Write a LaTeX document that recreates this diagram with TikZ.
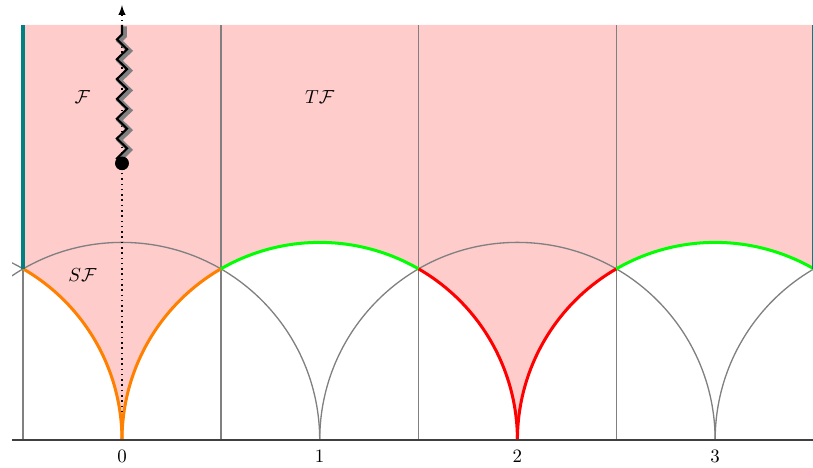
\documentclass[tikz,border=0pt]{standalone}
\usepackage{xcolor}
\usepackage{tikz}
\usetikzlibrary{decorations.pathmorphing}
\definecolor{MFPink}{HTML}{FFCCCC}
\definecolor{MFGray}{HTML}{808080}
\definecolor{MFAxis}{HTML}{404040}
\definecolor{MFOrange}{HTML}{FF8000}
\definecolor{MFGreen}{HTML}{00FF00}
\definecolor{MFRed}{HTML}{FF0000}
\definecolor{MFTeal}{HTML}{008080}
\tikzset{
  grayline/.style={MFGray,line width=0.7pt},
  sidearc/.style={line width=1.6pt},
  ticklabel/.style={anchor=north,yshift=-2pt},
  cutline/.style={decorate,decoration={zigzag,segment length=10.5pt,amplitude=2.7pt}},
}
\begin{document}
\begin{tikzpicture}[x=3.68cm,y=3.68cm]
\path[use as bounding box] (-0.617,-0.137) rectangle (3.495,2.226);
\fill[MFPink] (-0.5,2.1) -- (-0.5,0.866025) arc[start angle=60,end angle=0,radius=1]
  arc[start angle=180,end angle=120,radius=1]
  arc[start angle=120,end angle=60,radius=1]
  arc[start angle=60,end angle=0,radius=1]
  arc[start angle=180,end angle=120,radius=1]
  arc[start angle=120,end angle=60,radius=1]
  -- (3.5,2.1) -- cycle;
\draw[grayline] (-0.5,0) -- (-0.5,2.1);
\draw[grayline] (0.5,0) -- (0.5,2.1);
\draw[grayline] (1.5,0) -- (1.5,2.1);
\draw[grayline] (2.5,0) -- (2.5,2.1);
\draw[grayline] (3.5,0) -- (3.5,2.1);
\begin{scope}
\clip (-0.556,0) rectangle (3.6,1.1);
\draw[grayline] (0,0) arc[start angle=0,end angle=180,radius=1];
\draw[grayline] (1,0) arc[start angle=0,end angle=180,radius=1];
\draw[grayline] (2,0) arc[start angle=0,end angle=180,radius=1];
\draw[grayline] (3,0) arc[start angle=0,end angle=180,radius=1];
\draw[grayline] (4,0) arc[start angle=0,end angle=180,radius=1];
\draw[grayline] (5,0) arc[start angle=0,end angle=180,radius=1];
\end{scope}
\draw[sidearc,MFOrange] (-0.5,0.866025) arc[start angle=60,end angle=0,radius=1];
\draw[sidearc,MFOrange] (0,0) arc[start angle=180,end angle=120,radius=1];
\draw[sidearc,MFGreen] (0.5,0.866025) arc[start angle=120,end angle=60,radius=1];
\draw[sidearc,MFRed] (1.5,0.866025) arc[start angle=60,end angle=0,radius=1];
\draw[sidearc,MFRed] (2,0) arc[start angle=180,end angle=120,radius=1];
\draw[sidearc,MFGreen] (2.5,0.866025) arc[start angle=120,end angle=60,radius=1];
\draw[MFTeal,line width=2pt] (-0.5,0.866025) -- (-0.5,2.1);
\draw[MFTeal,line width=2pt] (3.5,0.866025) -- (3.5,2.1);
\draw[MFAxis,line width=1.1pt] (-0.556,0) -- (3.6,0);
\coordinate (base) at (0,0.14);
\coordinate (tip) at (0,2.2);
\coordinate (cut) at (0,2.1);
\node[circle,fill=black,inner sep=0pt,minimum size=7.2pt] (branch) at (0,1.4) {};
\draw[dotted,thick,-latex] (base) -- (tip);
\draw[cutline,MFGray,line width=2.6pt,transform canvas={xshift=1.3pt,yshift=-0.8pt}] (branch.center) -- (cut);
\draw[cutline,black,line width=1.1pt] (branch.center) -- (cut);
\node[circle,fill=black,inner sep=0pt,minimum size=7.2pt] at (branch) {};
\node (fund) at (-0.2,1.735) {$\mathcal{F}$};
\node (tfund) at (1,1.735) {$T\mathcal{F}$};
\node (sfund) at (-0.2,0.837) {$S\mathcal{F}$};
\node[ticklabel] (tick0) at (0,0) {$0$};
\node[ticklabel] (tick1) at (1,0) {$1$};
\node[ticklabel] (tick2) at (2,0) {$2$};
\node[ticklabel] (tick3) at (3,0) {$3$};
\end{tikzpicture}
\end{document}
